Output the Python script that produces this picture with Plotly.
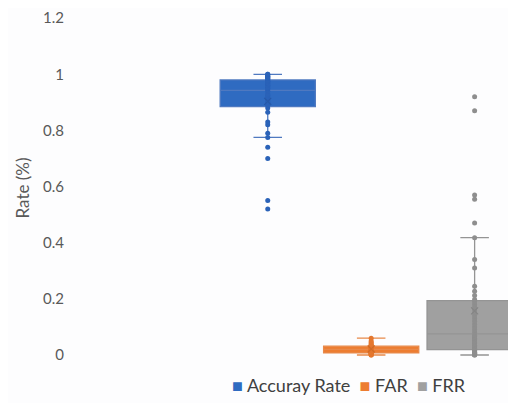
import plotly.graph_objects as go
import numpy as np

categories = ["Accuray Rate", "FAR", "FRR"]

accuracy = [0.52, 0.55, 0.70, 0.74,
            0.775, 0.79, 0.82, 0.83, 0.865, 0.88,
            0.89, 0.895, 0.90, 0.905, 0.91, 0.915, 0.92, 0.925, 0.93, 0.94,
            0.945, 0.95, 0.955, 0.96, 0.96, 0.965, 0.97, 0.97, 0.975, 0.98,
            0.98, 0.985, 0.985, 0.99, 0.99, 0.99, 0.995, 0.995, 1.0, 1.0]

far = [0.0, 0.0, 0.002, 0.004, 0.005, 0.006, 0.007, 0.008, 0.01, 0.012,
       0.014, 0.016, 0.018, 0.02, 0.02, 0.022, 0.024, 0.026, 0.028, 0.03,
       0.031, 0.032, 0.034, 0.036, 0.04, 0.045, 0.05, 0.06]

frr = [0.92, 0.87, 0.57, 0.555, 0.47, 0.418, 0.34, 0.31, 0.245, 0.227, 0.212, 0.198,
       0.19, 0.18, 0.17, 0.16, 0.15, 0.14, 0.13, 0.12, 0.11, 0.10, 0.09, 0.08,
       0.07, 0.065, 0.06, 0.055, 0.05, 0.045, 0.04, 0.035, 0.03, 0.025, 0.022, 0.02,
       0.018, 0.015, 0.012, 0.01, 0.008, 0.006, 0.005, 0.004, 0.003, 0.002, 0.0, 0.0]

y_ticks = [0, 0.2, 0.4, 0.6, 0.8, 1, 1.2]
y_tick_labels = ["0", "0.2", "0.4", "0.6", "0.8", "1", "1.2"]

series = [accuracy, far, frr]
fills = ["#2F6BC1", "#ED7D31", "#A0A0A0"]
lines = ["#4F79C0", "#E8894A", "#949494"]
points = ["#2A62B8", "#E4772E", "#8E8E8E"]
meds = ["#2659A8", "#D06A25", "#858585"]

fig = go.Figure()
for name, data, fc, lc, pc in zip(categories, series, fills, lines, points):
    fig.add_trace(go.Box(
        x=[name] * len(data), y=data, name=name,
        boxpoints="all", jitter=0, pointpos=0,
        fillcolor=fc, line=dict(color=lc, width=1.3),
        marker=dict(color=pc, size=5),
        whiskerwidth=0.3, showlegend=False, hoverinfo="y",
    ))
for name, data, mc in zip(categories, series, meds):
    fig.add_trace(go.Scatter(
        x=[name], y=[float(np.mean(data))], mode="markers",
        marker=dict(symbol="x-thin", size=7, line=dict(color=mc, width=1.2)),
        showlegend=False, hoverinfo="skip",
    ))

legend_text = "&nbsp;&nbsp;".join(
    f'<span style="color:{c}">■</span> {n}' for n, c in zip(categories, fills)
)
fig.add_annotation(
    text=legend_text, xref="paper", yref="paper",
    x=(222 - 57) / 451, xanchor="left", y=-(377 - 350) / 343, yanchor="middle",
    showarrow=False, font=dict(size=18, color="#404040"),
)

fig.update_layout(
    width=508, height=395,
    margin=dict(l=57, r=0, t=7, b=45),
    paper_bgcolor="#FDFDFE", plot_bgcolor="#FDFDFE",
    boxmode="overlay", boxgap=0.08, boxgroupgap=0,
    font=dict(family="Lato, Open Sans, sans-serif", color="#595959", size=14),
    showlegend=False,
    xaxis=dict(type="category", categoryorder="array", categoryarray=categories,
               range=[-1.96, 2.4], showticklabels=False, showgrid=False,
               zeroline=False, showline=False, ticks=""),
    yaxis=dict(range=[-0.0106, 1.2005], tickvals=y_ticks, ticktext=y_tick_labels,
               ticklabeloverflow="allow",
               showgrid=False, zeroline=False, showline=False, ticks="",
               title=dict(text="Rate (%)", font=dict(size=17, color="#595959"), standoff=9),
               tickfont=dict(size=15, color="#595959")),
)

fig.write_html("out.html")
